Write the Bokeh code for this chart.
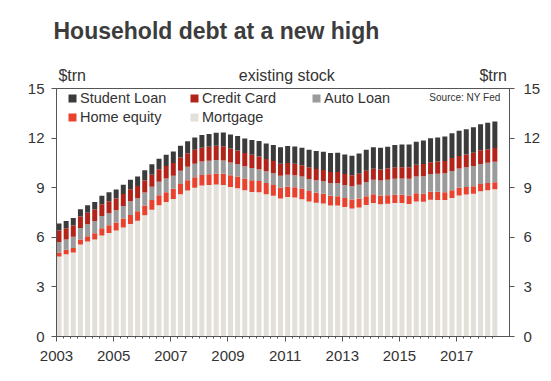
from bokeh.plotting import figure
from bokeh.models import (ColumnDataSource, Range1d, LinearAxis, FixedTicker, Label,
                          Legend, LegendItem, Title)
from bokeh.embed import file_html
from bokeh.resources import INLINE

# ---- data (US$ trn, quarterly 2003Q1 .. 2018Q2) ----
years = [2003, 2004, 2005, 2006, 2007, 2008, 2009, 2010,
         2011, 2012, 2013, 2014, 2015, 2016, 2017, 2018]
quarters_per_year = [4] * 15 + [2]

mortgage = [4.84, 4.98, 5.08, 5.56, 5.74, 5.87, 6.11, 6.26,
            6.41, 6.60, 6.81, 7.00, 7.34, 7.66, 7.94, 8.13,
            8.32, 8.61, 8.83, 9.00, 9.13, 9.17, 9.19, 9.16,
            9.04, 8.96, 8.84, 8.74, 8.73, 8.60, 8.51, 8.35,
            8.44, 8.40, 8.30, 8.17, 8.09, 8.05, 7.93, 7.93,
            7.83, 7.74, 7.80, 7.95, 8.07, 8.00, 8.03, 8.07,
            8.07, 8.02, 8.16, 8.15, 8.27, 8.26, 8.25, 8.38,
            8.53, 8.59, 8.64, 8.78, 8.84, 8.90]
home_equity = [0.24, 0.26, 0.27, 0.30, 0.33, 0.37, 0.43, 0.47,
               0.49, 0.53, 0.54, 0.57, 0.58, 0.59, 0.60, 0.60,
               0.61, 0.61, 0.62, 0.63, 0.64, 0.65, 0.67, 0.69,
               0.71, 0.71, 0.71, 0.71, 0.68, 0.68, 0.66, 0.66,
               0.64, 0.62, 0.64, 0.63, 0.61, 0.59, 0.58, 0.56,
               0.55, 0.54, 0.54, 0.53, 0.53, 0.53, 0.52, 0.51,
               0.51, 0.51, 0.50, 0.49, 0.49, 0.49, 0.48, 0.47,
               0.46, 0.45, 0.45, 0.44, 0.44, 0.43]
auto_loan = [0.64, 0.62, 0.68, 0.70, 0.72, 0.74, 0.75, 0.73,
             0.73, 0.77, 0.83, 0.79, 0.79, 0.80, 0.82, 0.82,
             0.79, 0.81, 0.82, 0.82, 0.81, 0.81, 0.81, 0.79,
             0.78, 0.76, 0.74, 0.74, 0.71, 0.71, 0.71, 0.71,
             0.71, 0.73, 0.73, 0.73, 0.75, 0.75, 0.77, 0.78,
             0.79, 0.81, 0.84, 0.86, 0.88, 0.90, 0.93, 0.96,
             0.97, 1.01, 1.02, 1.06, 1.07, 1.10, 1.14, 1.16,
             1.17, 1.19, 1.21, 1.22, 1.23, 1.24]
credit_card = [0.69, 0.69, 0.69, 0.70, 0.70, 0.70, 0.71, 0.72,
               0.71, 0.72, 0.73, 0.74, 0.72, 0.74, 0.75, 0.77,
               0.77, 0.80, 0.82, 0.84, 0.84, 0.85, 0.86, 0.87,
               0.84, 0.82, 0.81, 0.80, 0.76, 0.74, 0.73, 0.73,
               0.70, 0.70, 0.69, 0.70, 0.68, 0.68, 0.67, 0.68,
               0.66, 0.67, 0.67, 0.68, 0.66, 0.67, 0.68, 0.70,
               0.68, 0.70, 0.71, 0.73, 0.71, 0.73, 0.75, 0.78,
               0.76, 0.78, 0.81, 0.83, 0.82, 0.83]
student_loan = [0.43, 0.43, 0.44, 0.44, 0.45, 0.45, 0.52, 0.54,
                0.55, 0.56, 0.57, 0.58, 0.62, 0.63, 0.64, 0.67,
                0.70, 0.70, 0.72, 0.74, 0.77, 0.77, 0.80, 0.83,
                0.85, 0.87, 0.88, 0.90, 0.95, 0.95, 0.97, 1.00,
                1.03, 1.04, 1.06, 1.06, 1.09, 1.10, 1.15, 1.16,
                1.18, 1.18, 1.22, 1.27, 1.30, 1.31, 1.32, 1.35,
                1.38, 1.38, 1.39, 1.42, 1.45, 1.45, 1.47, 1.50,
                1.53, 1.53, 1.55, 1.57, 1.60, 1.60]

x_ticks = [2003, 2005, 2007, 2009, 2011, 2013, 2015, 2017]
y_ticks = [0, 3, 6, 9, 12, 15]

series = ["mortgage", "home_equity", "auto_loan", "credit_card", "student_loan"]
labels = ["Mortgage", "Home equity", "Auto Loan", "Credit Card", "Student Loan"]
colors = ["#e3e0da", "#e8412d", "#9b9b9b", "#b2241a", "#3b3b3b"]

header_pos = [2003.55, 2011.06, 2018.28]
header_txt = ["$trn", "existing stock", "$trn"]

# quarter start positions (decimal years) and bar centres
q_start = [y + q * 0.25 for y, n in zip(years, quarters_per_year) for q in range(n)]
bar_w = 0.175
q_centre = [s + bar_w / 2 for s in q_start]

src = ColumnDataSource(dict(x=q_centre, mortgage=mortgage, home_equity=home_equity,
                            auto_loan=auto_loan, credit_card=credit_card,
                            student_loan=student_loan))

FONT = "Liberation Sans"
TXT = "#333333"
AX = "#555555"
X_END = 2018.85

p = figure(width=543, height=373, output_backend="svg", toolbar_location=None,
           x_range=Range1d(2003, X_END), y_range=Range1d(0, 15),
           min_border_left=56, min_border_right=33, min_border_top=88,
           min_border_bottom=37)
p.title = Title(text="Household debt at a new high", align="left", offset=-3,
                text_font=FONT, text_font_size="23px", text_font_style="bold",
                text_color="#3c3c3c")
p.background_fill_color = "white"
p.border_fill_color = "white"
p.outline_line_color = AX
p.outline_line_width = 1
p.xgrid.visible = False
p.ygrid.visible = False

renderers = p.vbar_stack(series, x="x", width=bar_w, source=src, color=colors,
                         line_color=None)

# x axis
xa = p.xaxis[0]
xa.ticker = FixedTicker(ticks=x_ticks, minor_ticks=q_start)
xa.axis_line_color = AX
xa.major_tick_line_color = AX
xa.minor_tick_line_color = AX
xa.major_tick_in = 0
xa.major_tick_out = 5
xa.minor_tick_in = 0
xa.minor_tick_out = 2
xa.major_label_standoff = 9
xa.major_label_text_font = FONT
xa.major_label_text_font_size = "15px"
xa.major_label_text_color = TXT

def style_y(ax, standoff):
    ax.ticker = FixedTicker(ticks=y_ticks)
    ax.axis_line_color = AX
    ax.major_tick_line_color = AX
    ax.minor_tick_line_color = None
    ax.major_tick_in = 0
    ax.major_tick_out = 5
    ax.major_label_standoff = standoff
    ax.major_label_text_font = FONT
    ax.major_label_text_font_size = "15px"
    ax.major_label_text_color = TXT

style_y(p.yaxis[0], 7)
ra = LinearAxis()
style_y(ra, 9)
p.add_layout(ra, "right")

# header row ("$trn  existing stock  $trn") as a label-only top axis
ta = LinearAxis(ticker=FixedTicker(ticks=header_pos),
                major_label_overrides=dict(zip(header_pos, header_txt)))
ta.axis_line_color = None
ta.major_tick_line_color = None
ta.minor_tick_line_color = None
ta.major_tick_in = 0
ta.major_tick_out = 0
ta.major_label_standoff = 5
ta.major_label_text_font = FONT
ta.major_label_text_font_size = "16px"
ta.major_label_text_color = TXT
p.add_layout(ta, "above")
# empty spacer between header row and title
p.add_layout(Title(text=" ", text_font_size="10px", standoff=2), "above")

# legend
by_label = dict(zip(labels, renderers))
order = ["Student Loan", "Credit Card", "Auto Loan", "Home equity", "Mortgage"]
legend = Legend(items=[LegendItem(label=l, renderers=[by_label[l]]) for l in order],
                orientation="horizontal", ncols=3, location=(11, 211),
                padding=0, margin=0, spacing=3,
                glyph_width=10, glyph_height=10, label_standoff=3,
                label_width=106, label_height=15,
                label_text_font=FONT, label_text_font_size="14.5px",
                label_text_color=TXT,
                border_line_color=None, background_fill_alpha=0)
p.add_layout(legend, "center")

p.add_layout(Label(x=X_END, y=15, x_offset=-9, y_offset=-9, text="Source: NY Fed",
                   text_font=FONT, text_font_size="10px", text_color=TXT,
                   text_align="right", text_baseline="middle"))

open("out.html", "w").write(file_html(p, INLINE))
